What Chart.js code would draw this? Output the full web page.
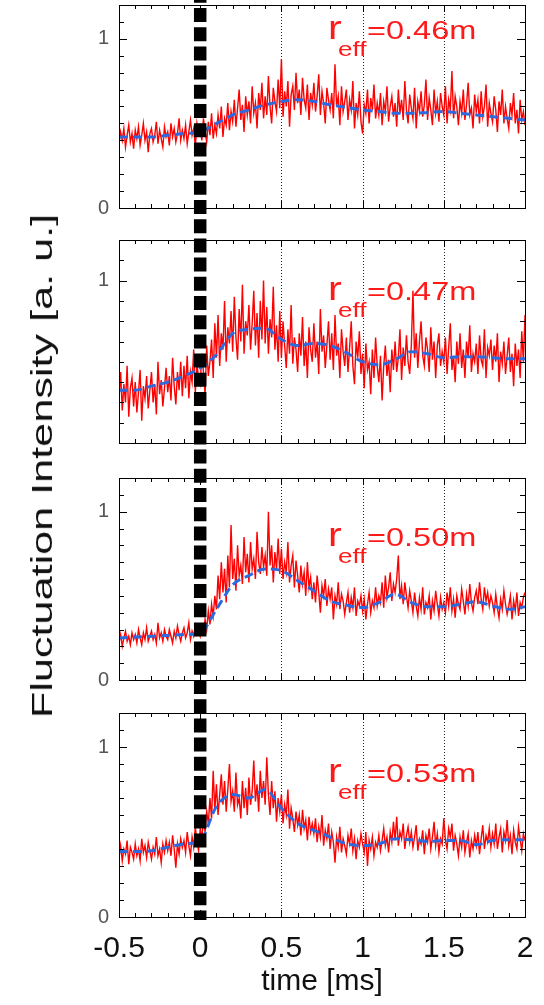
<!DOCTYPE html>
<html>
<head>
<meta charset="utf-8">
<script src="https://cdn.jsdelivr.net/npm/chart.js@4.4.0/dist/chart.umd.min.js"></script>
<style>
  html, body { margin: 0; padding: 0; background: #fff; }
  #fig { position: relative; width: 544px; height: 1005px; overflow: hidden; font-family: "Liberation Sans", Arial, sans-serif; }
  .panel { position: absolute; left: 0; width: 544px; }
  #ytitle { position: absolute; left: 42px; top: 466px; font-size: 30px; line-height: 30px; white-space: nowrap; color: #111;
            transform: translate(-50%, -50%) rotate(-90deg) scaleX(1.44); }
</style>
</head>
<body>
<div id="fig">
  <div class="panel" style="top:0px;height:224px"><canvas id="c0"></canvas></div>
  <div class="panel" style="top:224px;height:236px"><canvas id="c1"></canvas></div>
  <div class="panel" style="top:460px;height:236px"><canvas id="c2"></canvas></div>
  <div class="panel" style="top:696px;height:309px"><canvas id="c3"></canvas></div>
  <div id="ytitle">Fluctuation Intensity [a. u.]</div>
</div>
<script>
// raw traces are sampled every dt from t0 (ms)
const t0 = -0.5, dt = 0.01;
const smoothTimes = [-0.5, -0.4, -0.3, -0.2, -0.1, 0, 0.1, 0.2, 0.3, 0.4, 0.5, 0.6, 0.7,
  0.8, 0.9, 1.0, 1.1, 1.2, 1.3, 1.4, 1.5, 1.6, 1.7, 1.8, 1.9, 2.0];
const xTicks = [-0.5, 0, 0.5, 1, 1.5, 2];
const gridTimes = [0.5, 1, 1.5];
const radii = ['0.46', '0.47', '0.50', '0.53'];
const yMins = [0, 0.2, 0, 0];
const yMax = 1.2;

const raw046 = [
  0.38,0.45,0.40,0.47,0.36,0.43,0.49,0.39,0.44,0.35,
  0.46,0.41,0.48,0.37,0.43,0.50,0.40,0.45,0.33,0.44,
  0.47,0.39,0.43,0.51,0.38,0.46,0.41,0.36,0.48,0.42,
  0.45,0.37,0.50,0.42,0.47,0.39,0.44,0.53,0.40,0.46,
  0.41,0.49,0.38,0.45,0.52,0.43,0.47,0.36,0.50,0.44,
  0.48,0.40,0.53,0.45,0.39,0.51,0.43,0.56,0.41,0.49,
  0.44,0.55,0.47,0.60,0.42,0.53,0.49,0.62,0.46,0.57,
  0.51,0.64,0.48,0.59,0.70,0.52,0.61,0.45,0.66,0.55,
  0.63,0.50,0.72,0.56,0.62,0.47,0.68,0.58,0.74,0.53,
  0.66,0.55,0.78,0.60,0.50,0.71,0.63,0.57,0.76,0.59,
  0.88,0.54,0.69,0.60,0.75,0.48,0.67,0.72,0.58,0.80,
  0.62,0.70,0.55,0.77,0.64,0.59,0.73,0.52,0.68,0.61,
  0.74,0.57,0.66,0.79,0.55,0.69,0.62,0.50,0.71,0.64,
  0.58,0.68,0.53,0.85,0.60,0.66,0.49,0.72,0.57,0.63,
  0.70,0.52,0.64,0.58,0.75,0.47,0.62,0.55,0.69,0.51,
  0.44,0.61,0.56,0.70,0.50,0.65,0.58,0.73,0.53,0.62,
  0.55,0.68,0.49,0.63,0.57,0.72,0.51,0.60,0.66,0.54,
  0.62,0.48,0.70,0.56,0.64,0.52,0.75,0.58,0.50,0.67,
  0.59,0.53,0.71,0.47,0.63,0.57,0.69,0.54,0.61,0.76,
  0.52,0.65,0.58,0.49,0.70,0.56,0.63,0.51,0.68,0.60,
  0.55,0.72,0.50,0.64,0.58,0.81,0.53,0.66,0.60,0.49,
  0.63,0.56,0.70,0.52,0.61,0.74,0.55,0.59,0.47,0.67,
  0.57,0.64,0.50,0.69,0.54,0.60,0.73,0.48,0.62,0.56,
  0.51,0.66,0.58,0.45,0.63,0.55,0.70,0.50,0.60,0.53,
  0.47,0.62,0.55,0.68,0.50,0.58,0.44,0.64,0.52,0.57,
  0.49];
const smooth046 = [0.42,0.42,0.42,0.43,0.44,0.45,0.50,0.55,0.58,0.61,0.63,0.64,0.63,
  0.61,0.595,0.58,0.57,0.56,0.56,0.565,0.57,0.56,0.55,0.54,0.53,0.52];

const raw047 = [
  0.42,0.55,0.36,0.49,0.40,0.58,0.33,0.47,0.52,0.38,
  0.50,0.35,0.45,0.56,0.31,0.48,0.42,0.53,0.37,0.46,
  0.55,0.40,0.49,0.34,0.60,0.44,0.51,0.38,0.47,0.57,
  0.45,0.53,0.41,0.62,0.48,0.39,0.55,0.46,0.60,0.43,
  0.58,0.47,0.63,0.42,0.55,0.50,0.66,0.45,0.59,0.52,
  0.49,0.64,0.55,0.44,0.68,0.53,0.60,0.71,0.52,0.79,
  0.62,0.83,0.58,0.74,0.66,0.90,0.60,0.77,0.69,0.85,
  0.65,0.92,0.72,0.61,0.86,0.70,0.98,0.64,0.80,0.73,
  0.88,0.66,0.79,0.95,0.68,0.84,0.62,0.90,0.71,1.00,
  0.69,0.87,0.64,0.81,0.72,0.97,0.66,0.78,0.60,0.85,
  0.62,0.80,0.68,0.57,0.76,0.64,0.88,0.59,0.72,0.66,
  0.55,0.74,0.63,0.82,0.58,0.70,0.52,0.77,0.66,0.60,
  0.79,0.62,0.70,0.54,0.86,0.65,0.73,0.57,0.68,0.80,
  0.61,0.74,0.56,0.83,0.63,0.69,0.52,0.76,0.65,0.58,
  0.72,0.55,0.67,0.80,0.58,0.49,0.70,0.62,0.75,0.54,
  0.64,0.47,0.69,0.56,0.60,0.44,0.66,0.52,0.72,0.58,
  0.50,0.63,0.41,0.58,0.68,0.53,0.61,0.45,0.66,0.56,
  0.70,0.55,0.62,0.76,0.51,0.67,0.58,0.73,0.60,0.54,
  0.68,0.95,0.62,0.74,0.57,0.70,0.80,0.63,0.58,0.72,
  0.66,0.55,0.77,0.61,0.70,0.52,0.68,0.74,0.58,0.65,
  0.60,0.72,0.54,0.67,0.79,0.56,0.63,0.50,0.70,0.59,
  0.74,0.57,0.66,0.52,0.70,0.62,0.78,0.55,0.64,0.60,
  0.69,0.54,0.73,0.61,0.58,0.76,0.52,0.67,0.63,0.71,
  0.56,0.68,0.60,0.74,0.50,0.65,0.59,0.70,0.54,0.63,
  0.72,0.55,0.64,0.48,0.69,0.58,0.66,0.52,0.75,0.60,
  0.83];
const smooth047 = [0.46,0.46,0.48,0.50,0.53,0.57,0.635,0.74,0.76,0.765,0.71,0.68,0.69,
  0.68,0.645,0.60,0.585,0.61,0.65,0.64,0.62,0.625,0.625,0.62,0.615,0.615];

const raw050 = [
  0.22,0.27,0.20,0.25,0.29,0.23,0.26,0.21,0.28,0.24,
  0.27,0.22,0.30,0.25,0.21,0.28,0.24,0.31,0.23,0.26,
  0.29,0.24,0.27,0.22,0.34,0.25,0.28,0.23,0.30,0.26,
  0.24,0.30,0.26,0.22,0.29,0.25,0.32,0.27,0.23,0.28,
  0.31,0.25,0.28,0.34,0.24,0.29,0.26,0.32,0.27,0.30,
  0.26,0.31,0.28,0.36,0.30,0.41,0.33,0.45,0.38,0.50,
  0.42,0.62,0.48,0.70,0.52,0.66,0.46,0.74,0.55,0.92,
  0.60,0.72,0.53,0.80,0.62,0.68,0.57,0.85,0.64,0.75,
  0.58,0.82,0.66,0.72,0.60,0.88,0.70,0.63,0.79,0.67,
  0.74,0.62,1.00,0.68,0.80,0.58,0.76,0.66,0.84,0.63,
  0.78,0.60,0.70,0.64,0.82,0.58,0.68,0.74,0.55,0.71,
  0.62,0.52,0.68,0.57,0.64,0.50,0.70,0.55,0.61,0.48,
  0.58,0.46,0.62,0.52,0.40,0.56,0.50,0.60,0.44,0.54,
  0.48,0.55,0.36,0.50,0.45,0.58,0.42,0.51,0.47,0.39,
  0.46,0.52,0.40,0.49,0.43,0.55,0.38,0.47,0.44,0.50,
  0.41,0.48,0.36,0.45,0.52,0.40,0.47,0.43,0.55,0.44,
  0.50,0.46,0.58,0.43,0.62,0.49,0.55,0.64,0.47,0.57,
  0.52,0.60,0.74,0.48,0.56,0.45,0.58,0.50,0.43,0.53,
  0.47,0.40,0.52,0.44,0.38,0.49,0.42,0.55,0.39,0.46,
  0.43,0.50,0.36,0.47,0.41,0.53,0.45,0.38,0.49,0.42,
  0.46,0.40,0.52,0.44,0.55,0.41,0.48,0.37,0.50,0.45,
  0.42,0.54,0.47,0.39,0.51,0.44,0.57,0.46,0.41,0.49,
  0.53,0.45,0.58,0.48,0.42,0.55,0.47,0.52,0.44,0.50,
  0.46,0.40,0.51,0.43,0.37,0.48,0.42,0.53,0.45,0.39,
  0.44,0.50,0.36,0.47,0.41,0.52,0.38,0.46,0.43,0.49,
  0.52];
const smooth050 = [0.25,0.255,0.26,0.265,0.27,0.28,0.42,0.565,0.62,0.66,0.65,0.59,0.53,
  0.47,0.445,0.43,0.46,0.51,0.46,0.435,0.435,0.45,0.465,0.44,0.42,0.435];

const raw053 = [
  0.35,0.42,0.33,0.40,0.37,0.45,0.31,0.41,0.38,0.34,
  0.43,0.36,0.40,0.33,0.46,0.38,0.42,0.35,0.44,0.39,
  0.34,0.41,0.37,0.47,0.36,0.40,0.32,0.43,0.38,0.45,
  0.39,0.44,0.36,0.48,0.40,0.29,0.43,0.37,0.46,0.41,
  0.45,0.38,0.50,0.42,0.36,0.47,0.41,0.53,0.44,0.39,
  0.52,0.46,0.58,0.50,0.62,0.55,0.70,0.58,0.86,0.63,
  0.78,0.60,0.72,0.84,0.66,0.80,0.62,0.75,0.90,0.68,
  0.74,0.62,0.85,0.66,0.70,0.58,0.80,0.64,0.76,0.60,
  0.82,0.66,0.74,0.92,0.68,0.78,0.62,0.86,0.70,0.80,
  0.66,0.94,0.72,0.60,0.80,0.64,0.74,0.56,0.70,0.62,
  0.72,0.55,0.66,0.60,0.75,0.52,0.64,0.58,0.50,0.62,
  0.54,0.60,0.48,0.63,0.52,0.57,0.45,0.59,0.50,0.55,
  0.49,0.58,0.44,0.53,0.47,0.60,0.42,0.51,0.46,0.55,
  0.40,0.50,0.44,0.32,0.47,0.41,0.53,0.38,0.46,0.42,
  0.37,0.48,0.43,0.52,0.39,0.46,0.34,0.45,0.41,0.49,
  0.43,0.38,0.50,0.30,0.45,0.40,0.47,0.36,0.44,0.41,
  0.48,0.39,0.45,0.52,0.42,0.47,0.38,0.50,0.44,0.56,
  0.45,0.59,0.42,0.50,0.46,0.55,0.40,0.48,0.53,0.44,
  0.50,0.41,0.47,0.54,0.39,0.46,0.43,0.51,0.37,0.48,
  0.44,0.52,0.40,0.47,0.56,0.42,0.49,0.38,0.46,0.43,
  0.58,0.45,0.40,0.52,0.47,0.55,0.39,0.48,0.43,0.36,
  0.47,0.41,0.51,0.38,0.44,0.49,0.35,0.45,0.40,0.48,
  0.42,0.50,0.37,0.46,0.54,0.40,0.48,0.44,0.52,0.41,
  0.49,0.43,0.55,0.40,0.47,0.52,0.38,0.50,0.45,0.57,
  0.42,0.48,0.37,0.51,0.44,0.40,0.53,0.46,0.39,0.49,
  0.45];
const smooth053 = [0.385,0.385,0.39,0.41,0.43,0.45,0.65,0.72,0.70,0.75,0.64,0.55,0.51,
  0.47,0.43,0.42,0.43,0.46,0.455,0.445,0.45,0.45,0.425,0.45,0.455,0.455];

const rawSeries = [raw046, raw047, raw050, raw053];
const smoothSeries = [smooth046, smooth047, smooth050, smooth053];

// layout (pixels)
const FONT = '"Liberation Sans", Arial, sans-serif';
const canvasTops = [0, 224, 460, 696];
const pads = [{ top: 5, bottom: 16 }, { top: 16, bottom: 17 }, { top: 18, bottom: 16 }, { top: 17, bottom: 0 }];
const labelBase = [34, 60, 68, 69];   // baseline of r_eff text below plot top
const lineEndY = 920;                 // thick marker line ends here (page coords)

Chart.defaults.font.family = FONT;

function stretchedText(ctx, text, x, y, size, sx) {
  ctx.save();
  ctx.translate(x, y);
  ctx.scale(sx, 1);
  ctx.font = size + 'px ' + FONT;
  ctx.fillText(text, 0, 0);
  ctx.restore();
}

const panelDecor = {
  id: 'panelDecor',
  beforeDatasetsDraw(chart) {
    const { ctx, chartArea: a, scales: { x } } = chart;
    ctx.save();
    ctx.strokeStyle = '#222';
    ctx.lineWidth = 1;
    ctx.setLineDash([1, 2]);
    gridTimes.forEach(t => {
      const px = Math.round(x.getPixelForValue(t)) + 0.5;
      ctx.beginPath(); ctx.moveTo(px, a.top); ctx.lineTo(px, a.bottom); ctx.stroke();
    });
    ctx.restore();
  },
  afterDatasetsDraw(chart, args, opts) {
    const { ctx, chartArea: a, scales: { x, y } } = chart;
    ctx.save();
    // frame
    ctx.strokeStyle = '#000';
    ctx.lineWidth = 1;
    ctx.strokeRect(Math.round(a.left) + 0.5, Math.round(a.top) + 0.5,
      Math.round(a.right - a.left), Math.round(a.bottom - a.top));
    // minor / major ticks pointing inwards
    ctx.beginPath();
    for (let i = 0; i <= 25; i++) {
      const v = -0.5 + i * 0.1;
      const px = Math.round(x.getPixelForValue(v)) + 0.5;
      const len = (i % 5 === 0) ? 7 : 4;
      ctx.moveTo(px, a.bottom); ctx.lineTo(px, a.bottom - len);
      ctx.moveTo(px, a.top); ctx.lineTo(px, a.top + len);
    }
    const n = Math.round((y.max - y.min) / 0.1);
    for (let i = 0; i <= n; i++) {
      const v = y.min + i * 0.1;
      const py = Math.round(y.getPixelForValue(v)) + 0.5;
      const len = Math.abs(v - Math.round(v)) < 1e-6 ? 8 : 5;
      ctx.moveTo(a.left, py); ctx.lineTo(a.left + len, py);
      ctx.moveTo(a.right, py); ctx.lineTo(a.right - len, py);
    }
    ctx.stroke();

    // r_eff label
    ctx.fillStyle = '#ff1a1a';
    ctx.textBaseline = 'alphabetic';
    const by = a.top + opts.base;
    stretchedText(ctx, 'r', a.left + 209, by, 33, 1.25);
    stretchedText(ctx, 'eff', a.left + 219, by + 17, 20, 1.3);
    stretchedText(ctx, '=' + opts.radius + 'm', a.left + 248, by, 25, 1.3);

    // thick dashed marker at t = 0
    const px0 = x.getPixelForValue(0);
    const period = 19.2;
    ctx.strokeStyle = '#000';
    ctx.lineWidth = 12.5;
    ctx.setLineDash([14, period - 14]);
    ctx.lineDashOffset = (((opts.top - 8) % period) + period) % period;
    const endY = Math.min(chart.height, lineEndY - opts.top);
    ctx.beginPath(); ctx.moveTo(px0, 0); ctx.lineTo(px0, endY); ctx.stroke();
    ctx.restore();
  }
};

function makePanel(k) {
  const last = k === 3;
  const raw = rawSeries[k].map((v, i) => ({ x: t0 + i * dt, y: v }));
  const smooth = smoothSeries[k].map((v, i) => ({ x: smoothTimes[i], y: v }));
  return new Chart(document.getElementById('c' + k), {
    type: 'line',
    data: {
      datasets: [
        { data: smooth, borderColor: '#2a6be0', borderWidth: 3, borderDash: [9, 5],
          pointRadius: 0, tension: 0.4, cubicInterpolationMode: 'monotone', order: 0 },
        { data: raw, borderColor: '#ff0000', borderWidth: 1.4, pointRadius: 0, tension: 0, order: 1 }
      ]
    },
    options: {
      responsive: true,
      maintainAspectRatio: false,
      animation: false,
      events: [],
      layout: { padding: { left: 79, right: 19, top: pads[k].top, bottom: pads[k].bottom } },
      plugins: {
        legend: { display: false },
        tooltip: { enabled: false },
        panelDecor: { radius: radii[k], base: labelBase[k], top: canvasTops[k] }
      },
      scales: {
        x: {
          type: 'linear', min: -0.5, max: 2, display: last,
          grid: { display: false, drawTicks: false }, border: { display: false },
          afterBuildTicks(s) { s.ticks = xTicks.map(v => ({ value: v })); },
          ticks: { font: { size: 30 }, color: '#111', padding: 14, maxRotation: 0, autoSkip: false,
                   callback: v => String(v) },
          title: { display: last, text: 'time [ms]', font: { size: 30 }, color: '#111', padding: { top: 0, bottom: 5 } },
          afterFit(s) { s.height = last ? 88 : 0; s.paddingLeft = 0; s.paddingRight = 0; }
        },
        y: {
          min: yMins[k], max: yMax,
          grid: { display: false, drawTicks: false }, border: { display: false },
          ticks: {
            stepSize: 0.1, autoSkip: false, padding: 10, color: '#555', font: { size: 20 },
            callback: v => (Math.abs(v) < 1e-6 ? '0' : Math.abs(v - 1) < 1e-6 ? '1' : '')
          },
          afterFit(s) { s.width = 40; s.paddingTop = 0; s.paddingBottom = 0; }
        }
      }
    },
    plugins: [panelDecor]
  });
}

[0, 1, 2, 3].forEach(makePanel);
</script>
</body>
</html>
